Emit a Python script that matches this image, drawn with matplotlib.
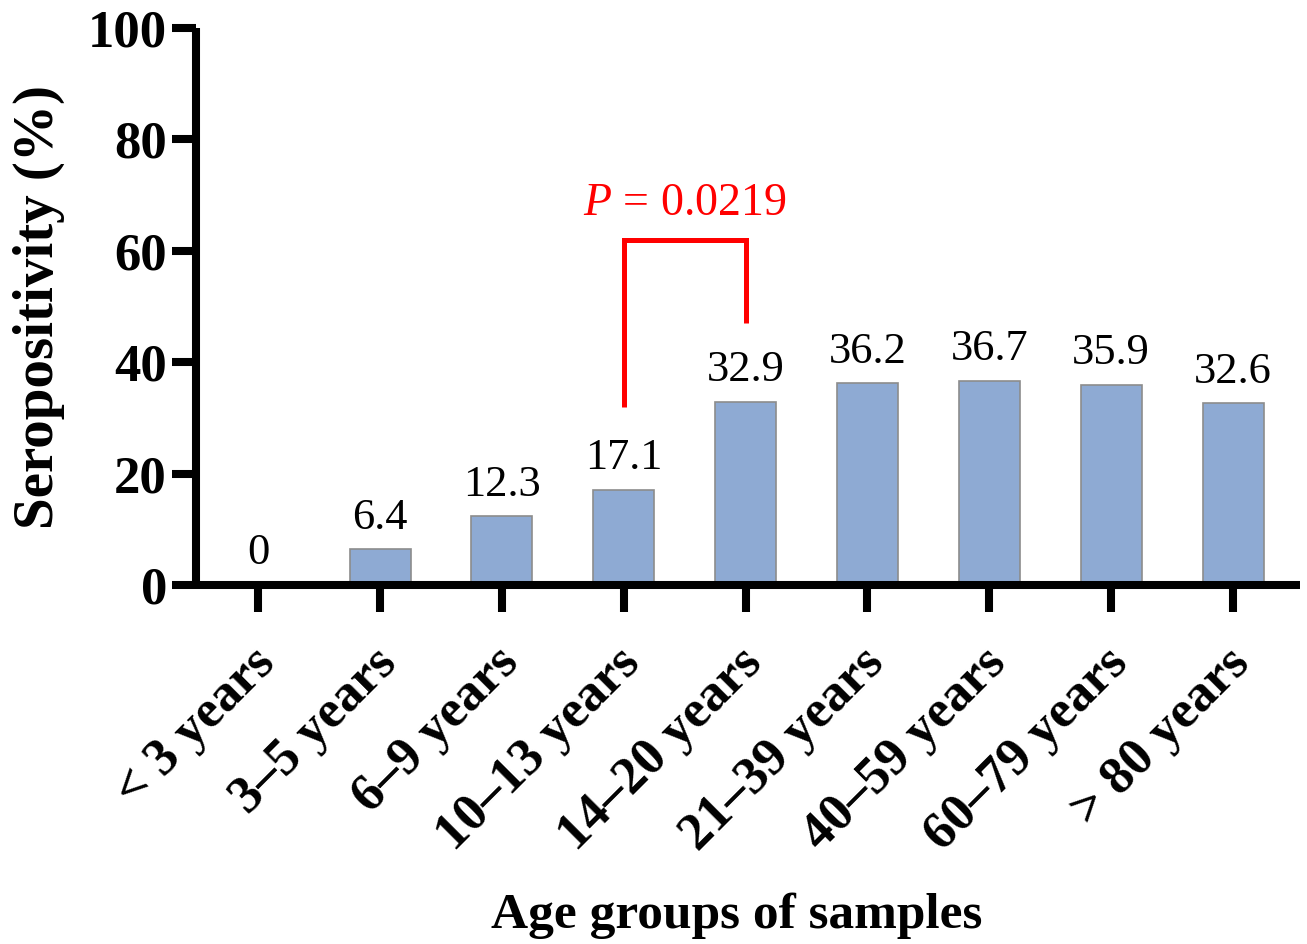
import matplotlib
matplotlib.use("Agg")
import matplotlib.pyplot as plt
from matplotlib.transforms import ScaledTranslation

categories = ["< 3 years", "3\u20135 years", "6\u20139 years", "10\u201313 years", "14\u201320 years",
              "21\u201339 years", "40\u201359 years", "60\u201379 years", "> 80 years"]
values = [0, 6.4, 12.3, 17.1, 32.9, 36.2, 36.7, 35.9, 32.6]
value_labels = ["0", "6.4", "12.3", "17.1", "32.9", "36.2", "36.7", "35.9", "32.6"]
yticks = [0, 20, 40, 60, 80, 100]

# significance bracket between groups 3 and 4
bracket_x = [3, 3, 4, 4]
bracket_y = [32, 62, 62, 47]
p_text_y = 66.4

plt.rcParams['font.family'] = ['Liberation Serif', 'DejaVu Serif']
plt.rcParams['mathtext.fontset'] = 'custom'
plt.rcParams['mathtext.rm'] = 'Liberation Serif'
plt.rcParams['mathtext.it'] = 'Liberation Serif:italic'

fig = plt.figure(figsize=(13.07, 9.44), dpi=100)
ax = fig.add_axes([0.150, 0.3803, 0.8447, 0.5900])

x = list(range(len(categories)))
ax.bar(x, values, width=0.5, color="#8eaad3", edgecolor="#8c8c8c", linewidth=1.2, zorder=2)

for xi, v, lab in zip(x, values, value_labels):
    ax.annotate(lab, (xi, v), xytext=(0, 15), textcoords="offset points",
                ha="center", va="baseline", fontsize=32)

ax.plot(bracket_x, bracket_y, color="#ff0000", linewidth=3.6, solid_capstyle="butt",
        solid_joinstyle="miter", clip_on=False, zorder=3)
ax.text(3.5, p_text_y, r"$\it{P}$ = 0.0219", color="#ff0000", fontsize=33,
        ha="center", va="baseline")

ax.set_xlim(-0.51, 8.55)
ax.set_ylim(0, 100)
ax.set_yticks(yticks)
ax.set_yticklabels([str(t) for t in yticks], fontsize=38, fontweight="bold")
ax.set_xticks(x)
ax.set_xticklabels(categories, fontsize=38, fontweight="bold", rotation=45,
                   ha="right", va="top", rotation_mode="anchor")

for s in ["top", "right"]:
    ax.spines[s].set_visible(False)
for s in ["left", "bottom"]:
    ax.spines[s].set_linewidth(5.8)
    ax.spines[s].set_capstyle("butt")

ax.tick_params(axis="y", length=17, width=5.8, pad=4)
ax.tick_params(axis="x", length=19.5, width=5.8, pad=19)

shift = ScaledTranslation(-8 / 100, 0, fig.dpi_scale_trans)
for lbl in ax.get_xticklabels():
    lbl.set_transform(lbl.get_transform() + shift)

ax.set_ylabel("Seropositivity (%)", fontsize=41, fontweight="bold")
ax.yaxis.set_label_coords(-0.119, 0.5)
ax.set_xlabel("Age groups of samples", fontsize=37, fontweight="bold")
ax.xaxis.set_label_coords(0.49, -0.553)

fig.savefig("out.png", dpi=100)
